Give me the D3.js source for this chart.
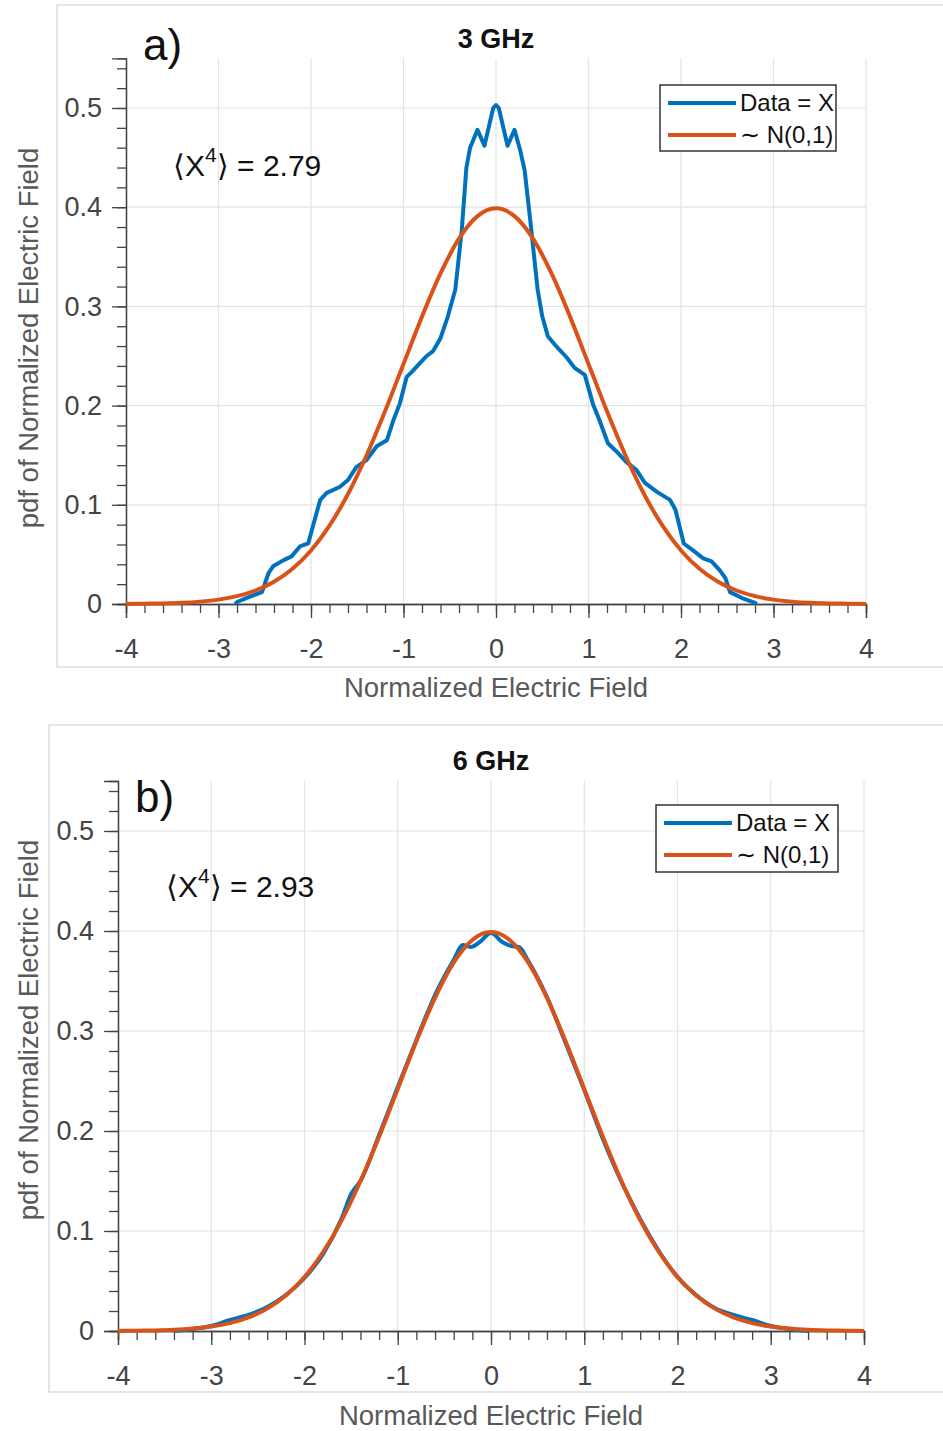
<!DOCTYPE html>
<html>
<head>
<meta charset="utf-8">
<script src="https://cdn.jsdelivr.net/npm/d3@7"></script>
<style>
  body { margin: 0; background: #fff; }
  svg text { font-family: "Liberation Sans", Arial, sans-serif; }
</style>
</head>
<body>
<svg id="chart"></svg>
<script>
const width = 943, height = 1431;

// standard normal pdf, read at steps of 0.2
const normX = [-4.0,-3.8,-3.6,-3.4,-3.2,-3.0,-2.8,-2.6,-2.4,-2.2,-2.0,-1.8,-1.6,-1.4,-1.2,-1.0,-0.8,-0.6,-0.4,-0.2,
               0.0,0.2,0.4,0.6,0.8,1.0,1.2,1.4,1.6,1.8,2.0,2.2,2.4,2.6,2.8,3.0,3.2,3.4,3.6,3.8,4.0];
const normY = [0.0001,0.0003,0.0006,0.0012,0.0024,0.0044,0.0079,0.0136,0.0224,0.0355,0.0540,0.0790,0.1109,0.1497,0.1942,0.2420,0.2897,0.3332,0.3683,0.3910,
               0.3989,0.3910,0.3683,0.3332,0.2897,0.2420,0.1942,0.1497,0.1109,0.0790,0.0540,0.0355,0.0224,0.0136,0.0079,0.0044,0.0024,0.0012,0.0006,0.0003,0.0001];

// measured pdf at 3 GHz
const dataX3 = [-2.82,-2.80,-2.70,-2.53,-2.46,-2.41,-2.30,-2.21,-2.12,-2.03,-1.96,-1.90,-1.83,-1.69,-1.60,-1.51,-1.40,-1.29,-1.18,-1.11,
                -1.04,-0.965,-0.91,-0.82,-0.75,-0.68,-0.60,-0.52,-0.44,-0.37,-0.32,-0.28,-0.20,-0.125,-0.03,0.00,0.03,0.125,0.20,0.26,
                0.31,0.37,0.45,0.50,0.56,0.63,0.69,0.76,0.85,0.96,1.05,1.12,1.21,1.30,1.41,1.52,1.61,1.74,1.88,1.94,
                2.03,2.13,2.24,2.33,2.42,2.48,2.53,2.66,2.78,2.82];
const dataY3 = [0.000,0.002,0.006,0.012,0.031,0.038,0.044,0.048,0.058,0.061,0.085,0.105,0.112,0.118,0.125,0.138,0.145,0.159,0.165,0.185,
                0.202,0.229,0.234,0.243,0.250,0.255,0.268,0.290,0.317,0.377,0.440,0.460,0.478,0.462,0.500,0.503,0.500,0.462,0.478,0.458,
                0.437,0.387,0.317,0.290,0.270,0.262,0.256,0.249,0.238,0.231,0.201,0.185,0.162,0.154,0.143,0.135,0.122,0.113,0.105,0.095,
                0.061,0.054,0.046,0.043,0.034,0.026,0.012,0.006,0.002,0.000];

// measured pdf at 6 GHz
const dataX6 = [-3.4,-3.2,-3.0,-2.8,-2.6,-2.4,-2.2,-2.0,-1.8,-1.6,-1.5,-1.4,-1.2,-1.0,-0.8,-0.6,-0.4,-0.3,-0.22,-0.12,
                0.0,0.12,0.22,0.3,0.4,0.6,0.8,1.0,1.2,1.4,1.5,1.6,1.8,2.0,2.2,2.4,2.6,2.8,3.0,3.2,3.4];
const dataY6 = [0.000,0.002,0.005,0.011,0.016,0.024,0.036,0.053,0.077,0.113,0.137,0.150,0.196,0.244,0.291,0.336,0.371,0.386,0.384,0.389,
                0.398,0.389,0.385,0.384,0.370,0.334,0.288,0.241,0.192,0.149,0.130,0.112,0.080,0.054,0.036,0.023,0.016,0.011,0.005,0.002,0.000];

const xTicks = [-4,-3,-2,-1,0,1,2,3,4];
const yTicks = [0,0.1,0.2,0.3,0.4,0.5];
const panelLabels = ["a)","b)"];
const titles = ["3 GHz","6 GHz"];
const kurtosis = ["2.79","2.93"];
const legendLabels = ["Data = X","\u223C N(0,1)"];

const blue = "#0072BD", orange = "#D95319";

const svg = d3.select("#chart")
              .attr("width", width)
              .attr("height", height);

const panels = [
  { frame: [57, 5, 900, 662], left: 126, right: 866, bottom: 604, top: 58.4,
    label: [143, 60], title: [496, 48], annot: [173, 176], legend: [660, 85, 176, 66],
    xTitleY: 697, yTitle: [38, 338],
    dataX: dataX3, dataY: dataY3, blueCurve: d3.curveLinear },
  { frame: [49, 725, 900, 667], left: 118, right: 864, bottom: 1331, top: 781,
    label: [135, 812], title: [491, 770], annot: [166, 897], legend: [656, 805, 182, 67],
    xTitleY: 1425, yTitle: [38, 1030],
    dataX: dataX6, dataY: dataY6, blueCurve: d3.curveMonotoneX }
];

panels.forEach((p, i) => {
  const g = svg.append("g");

  g.append("rect")
   .attr("x", p.frame[0]).attr("y", p.frame[1])
   .attr("width", p.frame[2]).attr("height", p.frame[3])
   .attr("fill", "none").attr("stroke", "#d4d4d4").attr("stroke-width", 1.2);

  const x = d3.scaleLinear().domain([-4, 4]).range([p.left, p.right]);
  const y = d3.scaleLinear().domain([0, 0.55]).range([p.bottom, p.top]);

  // grid
  g.append("g").selectAll("line").data(xTicks.filter(d => d !== -4)).enter().append("line")
   .attr("x1", d => x(d)).attr("x2", d => x(d))
   .attr("y1", y(0)).attr("y2", y(0.55))
   .attr("stroke", "#e3e3e3").attr("stroke-width", 1.2);
  g.append("g").selectAll("line").data(yTicks.filter(d => d !== 0)).enter().append("line")
   .attr("x1", x(-4)).attr("x2", x(4))
   .attr("y1", d => y(d)).attr("y2", d => y(d))
   .attr("stroke", "#e3e3e3").attr("stroke-width", 1.2);

  // axes
  const xAxis = d3.axisBottom(x).tickValues(xTicks).tickSize(14).tickPadding(21).tickFormat(d => String(d));
  const xMinor = d3.axisBottom(x).tickValues(d3.range(-40, 41, 2).map(d => d / 10)).tickSize(9).tickFormat("");
  const yAxis = d3.axisLeft(y).tickValues(yTicks).tickSize(14).tickPadding(10)
                  .tickFormat(d => d === 0 ? "0" : d3.format(".1f")(d));
  const yMinor = d3.axisLeft(y).tickValues(d3.range(0, 28).map(d => d * 0.02)).tickSize(9).tickFormat("");

  [xMinor, xAxis].forEach(ax => {
    const a = g.append("g").attr("transform", `translate(0,${y(0)})`).call(ax);
    a.select(".domain").attr("stroke", "#444").attr("stroke-width", 1.3);
    a.selectAll(".tick line").attr("stroke", "#444").attr("stroke-width", 1.3);
    a.selectAll("text").attr("font-size", 27).attr("fill", "#444")
     .attr("font-family", "Liberation Sans, Arial, sans-serif");
  });
  [yMinor, yAxis].forEach(ax => {
    const a = g.append("g").attr("transform", `translate(${x(-4)},0)`).call(ax);
    a.select(".domain").attr("stroke", "#444").attr("stroke-width", 1.3);
    a.selectAll(".tick line").attr("stroke", "#444").attr("stroke-width", 1.3);
    a.selectAll("text").attr("font-size", 27).attr("fill", "#444")
     .attr("font-family", "Liberation Sans, Arial, sans-serif");
  });

  // curves
  const line = d3.line().x(d => x(d[0])).y(d => y(d[1]));
  g.append("path")
   .datum(p.dataX.map((d, k) => [d, p.dataY[k]]))
   .attr("d", line.curve(p.blueCurve))
   .attr("fill", "none").attr("stroke", blue).attr("stroke-width", 4)
   .attr("stroke-linejoin", "round");
  g.append("path")
   .datum(normX.map((d, k) => [d, normY[k]]))
   .attr("d", line.curve(d3.curveMonotoneX))
   .attr("fill", "none").attr("stroke", orange).attr("stroke-width", 4)
   .attr("stroke-linejoin", "round");

  // title
  g.append("text").attr("x", p.title[0]).attr("y", p.title[1])
   .attr("text-anchor", "middle").attr("font-size", 27).attr("font-weight", "bold")
   .attr("fill", "#111").text(titles[i]);

  // panel letter
  g.append("text").attr("x", p.label[0]).attr("y", p.label[1])
   .attr("font-size", 44).attr("font-family", "Lato, sans-serif")
   .attr("fill", "#111").text(panelLabels[i]);

  // kurtosis annotation
  const t = g.append("text").attr("x", p.annot[0]).attr("y", p.annot[1])
             .attr("font-size", 30).attr("fill", "#111");
  t.append("tspan").text("\u27E8X");
  t.append("tspan").attr("dy", -14).attr("font-size", 21).text("4");
  t.append("tspan").attr("dy", 14).text("\u27E9 = " + kurtosis[i]);

  // legend
  const [lx, ly, lw, lh] = p.legend;
  const lg = g.append("g");
  lg.append("rect").attr("x", lx).attr("y", ly).attr("width", lw).attr("height", lh)
    .attr("fill", "#fff").attr("stroke", "#333").attr("stroke-width", 1.5);
  [blue, orange].forEach((c, k) => {
    const cy = ly + 18 + k * 32;
    lg.append("line").attr("x1", lx + 8).attr("x2", lx + 76).attr("y1", cy).attr("y2", cy)
      .attr("stroke", c).attr("stroke-width", 4);
    lg.append("text").attr("x", lx + 80).attr("y", cy + 8)
      .attr("font-size", 24).attr("fill", "#111").text(legendLabels[k]);
  });

  // axis titles
  g.append("text").attr("x", (p.left + p.right) / 2).attr("y", p.xTitleY)
   .attr("text-anchor", "middle").attr("font-size", 27.5)
   .attr("font-family", "Lato, sans-serif").attr("fill", "#595959")
   .text("Normalized Electric Field");
  g.append("text")
   .attr("transform", `translate(${p.yTitle[0]},${p.yTitle[1]}) rotate(-90)`)
   .attr("text-anchor", "middle").attr("font-size", 27.5).attr("fill", "#595959")
   .text("pdf of Normalized Electric Field");
});
</script>
</body>
</html>
